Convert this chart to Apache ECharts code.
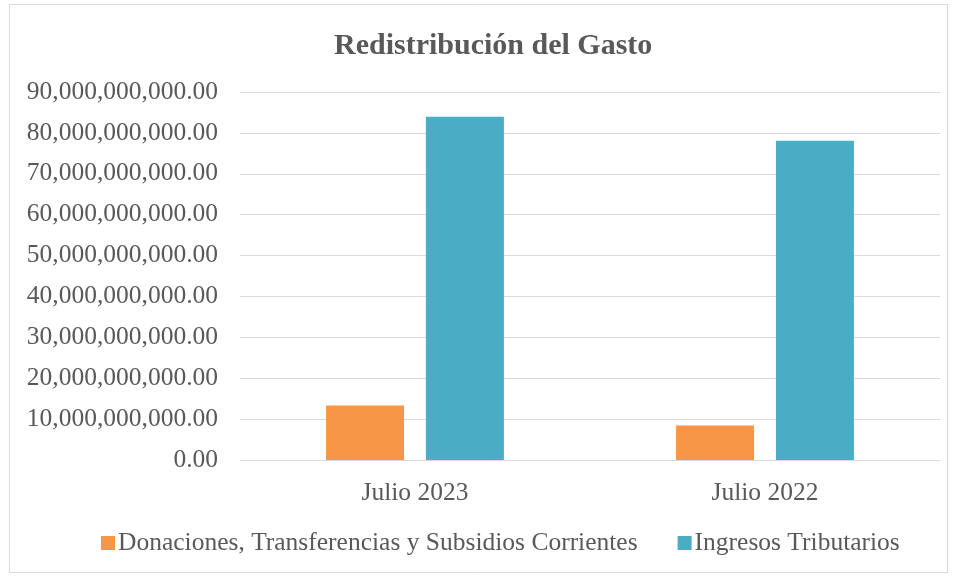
<!DOCTYPE html>
<html>
<head>
<meta charset="utf-8">
<script src="https://cdn.jsdelivr.net/npm/echarts@6/dist/echarts.min.js"></script>
<style>
  html, body { margin: 0; padding: 0; background: #fff; }
  #main { width: 958px; height: 577px; }
</style>
</head>
<body>
<div id="main"></div>
<script>
const categories = ['Julio 2023', 'Julio 2022']
const donaciones = [13350000000, 8460000000]
const ingresos = [83950000000, 78050000000]
const seriesNames = ['Donaciones, Transferencias y Subsidios Corrientes', 'Ingresos Tributarios']

const chart = echarts.init(document.getElementById('main'))
const font = 'Liberation Serif'

const fmt = v => Number(v).toLocaleString('en-US', { minimumFractionDigits: 2, maximumFractionDigits: 2 })

const option = {
  backgroundColor: '#fff',
  color: ['#F79646', '#4BACC6'],
  textStyle: { fontFamily: font, color: '#595959' },
  title: {
    text: 'Redistribución del Gasto',
    left: 329,
    top: 26,
    textStyle: { fontFamily: font, fontSize: 30, fontWeight: 'bold', color: '#595959' }
  },
  graphic: [{
    type: 'rect',
    shape: { x: 9.5, y: 4.5, width: 938, height: 568 },
    style: { fill: 'none', stroke: '#d9d9d9', lineWidth: 1 },
    silent: true
  }],
  grid: { left: 240, right: 18, top: 92, bottom: 117 },
  legend: {
    bottom: 16,
    left: 96,
    itemWidth: 14,
    itemHeight: 14,
    itemGap: 40,
    itemStyle: { borderWidth: 0 },
    icon: 'rect',
    textStyle: { fontFamily: font, fontSize: 25.5, color: '#595959', padding: [0, 0, 0, -2] },
    data: seriesNames
  },
  xAxis: {
    type: 'category',
    data: categories,
    axisLine: { lineStyle: { color: '#d9d9d9', width: 1 } },
    axisTick: { show: false },
    axisLabel: { fontFamily: font, fontSize: 25.5, color: '#595959', margin: 20 }
  },
  yAxis: {
    type: 'value',
    min: 0,
    max: 90000000000,
    interval: 10000000000,
    axisLine: { show: false },
    axisTick: { show: false },
    splitLine: { lineStyle: { color: '#d9d9d9', width: 1 } },
    axisLabel: { fontFamily: font, fontSize: 25.5, color: '#595959', margin: 22, formatter: fmt }
  },
  series: [{
    name: seriesNames[0],
    type: 'bar',
    data: donaciones,
    barWidth: 78,
    barGap: '28%'
  }, {
    name: seriesNames[1],
    type: 'bar',
    data: ingresos,
    barWidth: 78,
    barGap: '28%'
  }]
}

chart.setOption(option)
</script>
</body>
</html>
